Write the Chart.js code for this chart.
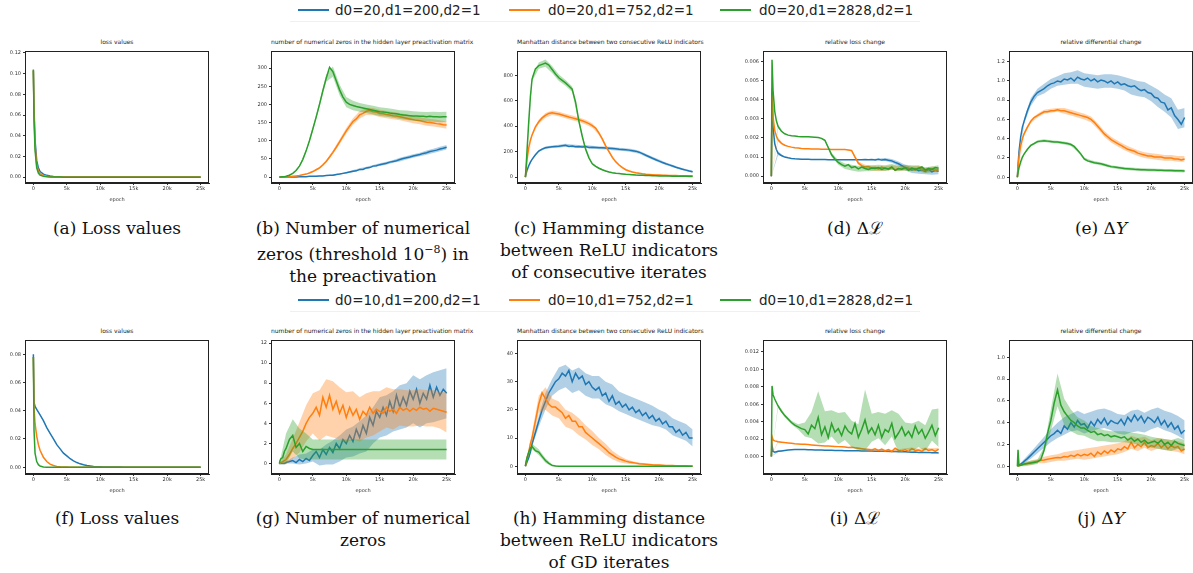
<!DOCTYPE html>
<html>
<head>
<meta charset="utf-8">
<script src="https://cdn.jsdelivr.net/npm/chart.js@4.4.0/dist/chart.umd.min.js"></script>
<style>
  body { margin: 0; width: 1193px; height: 573px; background: #fff; position: relative; overflow: hidden; }
  .ttl { position: absolute; font: 6px "DejaVu Sans"; color: #222; text-align: center; white-space: nowrap; }
  .cap { position: absolute; width: 260px; font: 17px "DejaVu Serif"; line-height: 22px; text-align: center; color: #111; }
  .leg-line { position: absolute; width: 31px; height: 2px; }
  .leg-text { position: absolute; font: 13.5px "DejaVu Sans"; line-height: 16px; color: #222; white-space: nowrap; }
  .leg-box { position: absolute; border-bottom: 1px solid rgba(0,0,0,0.06); }
</style>
</head>
<body>
<script>
// epochs des points tracés (0 à 25k)
const EPOCHS = [0, 100, 250, 500, 750, 1000,
  1500, 2000, 2500, 3000, 3500, 4000, 4500, 5000,
  5500, 6000, 6500, 7000, 7500, 8000, 8500, 9000, 9500, 10000,
  10500, 11000, 11500, 12000, 12500, 13000, 13500, 14000, 14500, 15000,
  15500, 16000, 16500, 17000, 17500, 18000, 18500, 19000, 19500, 20000,
  20500, 21000, 21500, 22000, 22500, 23000, 23500, 24000, 24500, 25000]
// epochs des bandes d'écart-type
const SD_EPOCHS = [0, 1000, 2000, 3000, 4000, 5000, 6000, 7000, 8000, 9000, 10000, 11000, 12000,
  13000, 14000, 15000, 16000, 17000, 18000, 19000, 20000, 21000, 22000, 23000, 24000, 25000]

const TOP_LABELS = ["d0=20,d1=200,d2=1", "d0=20,d1=752,d2=1", "d0=20,d1=2828,d2=1"]
const BOTTOM_LABELS = ["d0=10,d1=200,d2=1", "d0=10,d1=752,d2=1", "d0=10,d1=2828,d2=1"]
const TITLES = ["loss values", "number of numerical zeros in the hidden layer preactivation matrix",
  "Manhattan distance between two consecutive ReLU indicators", "relative loss change", "relative differential change"]

const X_TICKS = [0, 5000, 10000, 15000, 20000, 25000]
const X_TICK_LABELS = ["0", "5k", "10k", "15k", "20k", "25k"]

// (a) loss values, d0=20
const aBlue = [0.103, 0.066, 0.036, 0.016, 0.009, 0.0055,
  0.003, 0.0018, 0.0011, 0.0007, 0.0005, 0.0004, 0.0003, 0.0003,
  0.0002, 0.0002, 0.0002, 0.0002, 0.0002, 0.0002, 0.0002, 0.0002, 0.0002, 0.0002,
  0.0002, 0.0002, 0.0002, 0.0002, 0.0002, 0.0002, 0.0002, 0.0002, 0.0002, 0.0002,
  0.0002, 0.0002, 0.0002, 0.0002, 0.0002, 0.0002, 0.0002, 0.0002, 0.0002, 0.0002,
  0.0002, 0.0002, 0.0002, 0.0002, 0.0002, 0.0002, 0.0002, 0.0002, 0.0002, 0.0002]
const aOrange = [0.103, 0.062, 0.031, 0.012, 0.006, 0.0035,
  0.0016, 0.0009, 0.0005, 0.0003, 0.0002, 0.0002, 0.0001, 0.0001,
  0.0001, 0.0001, 0.0001, 0.0001, 0.0001, 0.0001, 0.0001, 0.0001, 0.0001, 0.0001,
  0.0001, 0.0001, 0.0001, 0.0001, 0.0001, 0.0001, 0.0001, 0.0001, 0.0001, 0.0001,
  0.0001, 0.0001, 0.0001, 0.0001, 0.0001, 0.0001, 0.0001, 0.0001, 0.0001, 0.0001,
  0.0001, 0.0001, 0.0001, 0.0001, 0.0001, 0.0001, 0.0001, 0.0001, 0.0001, 0.0001]
const aGreen = [0.104, 0.056, 0.026, 0.009, 0.004, 0.002,
  0.0008, 0.0004, 0.0002, 0.0001, 0.0001, 0.0001, 0, 0,
  0, 0, 0, 0, 0, 0, 0, 0, 0, 0,
  0, 0, 0, 0, 0, 0, 0, 0, 0, 0,
  0, 0, 0, 0, 0, 0, 0, 0, 0, 0,
  0, 0, 0, 0, 0, 0, 0, 0, 0, 0]

// (b) numerical zeros, d0=20
const bBlue = [0, 0, 0, 0, 0, 0,
  0, 0, 0, 1, 1, 1, 2, 2,
  2, 3, 3, 4, 5, 5, 7, 8, 10, 12,
  14, 16, 17, 21, 21, 25, 26, 30, 31, 34,
  36, 38, 41, 43, 45, 48, 51, 53, 55, 58,
  60, 62, 65, 67, 70, 72, 74, 77, 79, 82]
const bOrange = [0, 0, 0, 0, 1, 1,
  1, 2, 3, 4, 6, 8, 11, 15,
  20, 25, 33, 43, 55, 68, 82, 97, 112, 127,
  140, 153, 160, 171, 175, 181, 183, 180, 179, 175,
  174, 172, 171, 169, 168, 166, 164, 162, 160, 158,
  156, 155, 153, 151, 150, 149, 147, 146, 144, 143]
const bGreen = [0, 0, 0, 1, 1, 2,
  5, 10, 18, 30, 48, 72, 100, 132,
  165, 200, 238, 272, 302, 290, 265, 240, 220, 206,
  200, 197, 194, 192, 190, 188, 186, 184, 182, 180,
  179, 178, 176, 175, 174, 172, 171, 170, 169, 168,
  168, 167, 167, 166, 167, 166, 166, 165, 166, 166]
const bSdBlue = [0, 0, 0, 0, 0, 1, 1, 1, 2, 2, 2, 3, 3, 3, 3, 4, 4, 4, 5, 5, 5, 5, 6, 6, 6, 6]
const bSdOrange = [0, 0, 0, 1, 1, 2, 3, 4, 5, 7, 8, 9, 10, 10, 10, 10, 10, 10, 10, 10, 10, 10, 10, 10, 10, 10]
const bSdGreen = [0, 0, 1, 2, 4, 6, 8, 10, 14, 15, 14, 13, 12, 12, 12, 12, 12, 12, 12, 13, 13, 13, 13, 14, 14, 14]

// (c) Hamming distance, d0=20
const cBlue = [0, 25, 55, 90, 118, 140,
  175, 205, 220, 230, 235, 238, 240, 242,
  246, 250, 241, 244, 238, 241, 236, 240, 233, 235,
  233, 231, 230, 228, 226, 224, 222, 219, 217, 215,
  212, 208, 204, 196, 185, 172, 160, 148, 137, 126,
  115, 105, 96, 87, 78, 70, 62, 55, 48, 42]
const cOrange = [0, 60, 140, 230, 290, 330,
  395, 435, 465, 485, 500, 505, 500, 495,
  488, 480, 472, 465, 458, 450, 442, 432, 420, 405,
  385, 345, 300, 245, 200, 155, 120, 95, 75, 58,
  48, 40, 34, 30, 26, 23, 21, 19, 17, 16,
  15, 14, 13, 12, 12, 11, 11, 10, 10, 10]
const cGreen = [0, 70, 210, 430, 630, 770,
  850, 875, 885, 895, 880, 845, 810, 780,
  760, 740, 715, 690, 590, 440, 320, 220, 150, 105,
  85, 70, 58, 48, 40, 35, 31, 28, 25, 22,
  20, 18, 16, 15, 14, 13, 12, 11, 10, 9,
  9, 8, 8, 7, 7, 6, 6, 6, 5, 5]
const cSdBlue = [0, 5, 8, 10, 10, 12, 12, 12, 12, 12, 12, 12, 12, 12, 12, 12, 12, 12, 12, 12, 12, 10, 10, 8, 8, 8]
const cSdOrange = [0, 10, 15, 18, 18, 18, 18, 18, 18, 18, 18, 15, 12, 10, 8, 6, 5, 5, 4, 4, 4, 3, 3, 3, 3, 3]
const cSdGreen = [0, 20, 25, 28, 28, 25, 22, 22, 20, 15, 8, 6, 5, 4, 3, 3, 3, 3, 3, 3, 2, 2, 2, 2, 2, 2]

// (d) relative loss change, d0=20
const dBlue = [0, 0.0044, 0.0026, 0.0017, 0.0014, 0.0012,
  0.00108, 0.001, 0.00096, 0.00093, 0.00091, 0.0009, 0.00089, 0.00088,
  0.00088, 0.00087, 0.00087, 0.00087, 0.00087, 0.00087, 0.00086, 0.00086, 0.00086, 0.00086,
  0.00086, 0.00086, 0.00086, 0.00086, 0.00086, 0.00086, 0.00086, 0.00087, 0.00086, 0.00087,
  0.00085, 0.00088, 0.00084, 0.00087, 0.00083, 0.0008, 0.00072, 0.00065, 0.00055, 0.00045,
  0.0004, 0.00032, 0.00038, 0.00028, 0.00033, 0.00025, 0.00035, 0.00022, 0.0003, 0.00025]
const dOrange = [0, 0.0046, 0.0031, 0.0024, 0.0021, 0.0019,
  0.00172, 0.00162, 0.00156, 0.00152, 0.00149, 0.00147, 0.00145, 0.00144,
  0.00143, 0.00142, 0.00142, 0.00142, 0.00141, 0.00141, 0.00141, 0.0014, 0.0014, 0.0014,
  0.0014, 0.00139, 0.00137, 0.00134, 0.001, 0.00068, 0.00055, 0.00048, 0.0005, 0.00042,
  0.00045, 0.00038, 0.00048, 0.0004, 0.00035, 0.00045, 0.00032, 0.0004, 0.00036, 0.00042,
  0.00035, 0.0004, 0.00032, 0.00045, 0.00036, 0.0003, 0.0004, 0.00038, 0.0003, 0.00035]
const dGreen = [0, 0.0061, 0.0045, 0.0034, 0.0029, 0.0026,
  0.00235, 0.00222, 0.00215, 0.00212, 0.0021, 0.00208, 0.00207, 0.00207,
  0.00206, 0.00205, 0.00204, 0.00202, 0.00198, 0.00188, 0.0015, 0.00112, 0.0009, 0.00072,
  0.0006, 0.00052, 0.0006, 0.00045, 0.0005, 0.00038, 0.00048, 0.0004, 0.00035, 0.00042,
  0.0004, 0.00045, 0.00035, 0.00042, 0.00038, 0.00048, 0.0003, 0.0004, 0.00036, 0.00045,
  0.0003, 0.00042, 0.00035, 0.0004, 0.00048, 0.00032, 0.0004, 0.00035, 0.00045, 0.00042]
const dSdBlue = [0, 0.0001, 0, 0, 0, 0, 0, 0, 0, 0, 0, 0, 0, 0, 0, 0.00003, 0.00005, 0.00008, 0.0001, 0.00012,
  0.00015, 0.00015, 0.00015, 0.00015, 0.00015, 0.00015]
const dSdOrange = [0, 0.0001, 0, 0, 0, 0, 0, 0, 0, 0, 0, 0, 0.00005, 0.0001, 0.00012, 0.00012, 0.00012, 0.00012,
  0.00012, 0.00012, 0.00012, 0.00012, 0.00012, 0.00012, 0.00012, 0.00012]
const dSdGreen = [0, 0.0001, 0, 0, 0, 0, 0, 0, 0.00005, 0.0001, 0.00012, 0.00014, 0.00015, 0.00015, 0.00015,
  0.00015, 0.00015, 0.00015, 0.00015, 0.00015, 0.00015, 0.00015, 0.00015, 0.00015, 0.00015, 0.00015]

// (e) relative differential change, d0=20
const eBlue = [0, 0.12, 0.27, 0.42, 0.52, 0.58,
  0.69, 0.78, 0.84, 0.88, 0.9, 0.92, 0.95, 0.97,
  0.98, 1.0, 0.99, 1.02, 1.01, 1.03, 1.0, 1.04, 1.02, 1.01,
  1.03, 1.0, 1.02, 0.99, 1.01, 1.0, 0.98, 1.0, 0.97, 0.99,
  0.96, 0.97, 0.95, 0.94, 0.95, 0.92, 0.9, 0.91, 0.88, 0.87,
  0.83, 0.82, 0.78, 0.77, 0.7, 0.72, 0.64, 0.6, 0.55, 0.62]
const eOrange = [0, 0.1, 0.22, 0.33, 0.4, 0.45,
  0.52, 0.58, 0.62, 0.64, 0.66, 0.68, 0.68, 0.69,
  0.69, 0.7, 0.69, 0.69, 0.68, 0.67, 0.66, 0.65, 0.64, 0.63,
  0.62, 0.6, 0.57, 0.53, 0.49, 0.45, 0.42, 0.39, 0.37, 0.35,
  0.33, 0.31, 0.29, 0.28, 0.27, 0.25, 0.24, 0.23, 0.22, 0.22,
  0.21, 0.21, 0.21, 0.2, 0.2, 0.2, 0.19, 0.19, 0.18, 0.19]
const eGreen = [0, 0.05, 0.1, 0.16, 0.21, 0.24,
  0.29, 0.33, 0.35, 0.37, 0.375, 0.38, 0.375, 0.37,
  0.365, 0.365, 0.36, 0.355, 0.35, 0.34, 0.32, 0.28, 0.24, 0.19,
  0.17, 0.16, 0.15, 0.145, 0.14, 0.13, 0.12, 0.11, 0.105, 0.1,
  0.095, 0.09, 0.088, 0.085, 0.082, 0.08, 0.078, 0.077, 0.076, 0.075,
  0.074, 0.073, 0.072, 0.071, 0.07, 0.07, 0.068, 0.067, 0.066, 0.065]
const eSdBlue = [0, 0.03, 0.04, 0.04, 0.05, 0.05, 0.05, 0.06, 0.06, 0.07, 0.07, 0.07, 0.07, 0.07, 0.07, 0.07, 0.07,
  0.08, 0.08, 0.08, 0.08, 0.09, 0.09, 0.1, 0.1, 0.1]
const eSdOrange = [0, 0.02, 0.02, 0.02, 0.02, 0.02, 0.02, 0.03, 0.03, 0.03, 0.03, 0.03, 0.03, 0.03, 0.03, 0.03, 0.03,
  0.03, 0.03, 0.03, 0.03, 0.03, 0.03, 0.03, 0.03, 0.03]
const eSdGreen = [0, 0.01, 0.01, 0.015, 0.015, 0.015, 0.015, 0.015, 0.015, 0.015, 0.015, 0.015, 0.015, 0.015, 0.015,
  0.015, 0.015, 0.015, 0.015, 0.015, 0.015, 0.015, 0.015, 0.015, 0.015, 0.015]

// (f) loss values, d0=10
const fBlue = [0.08, 0.046, 0.043, 0.041, 0.039, 0.037,
  0.033, 0.028, 0.024, 0.02, 0.016, 0.013, 0.01, 0.008,
  0.006, 0.0045, 0.0033, 0.0024, 0.0017, 0.0012, 0.0009, 0.0006, 0.0004, 0.0003,
  0.0002, 0.0002, 0.0001, 0.0001, 0.0001, 0.0001, 0, 0, 0, 0,
  0, 0, 0, 0, 0, 0, 0, 0, 0, 0,
  0, 0, 0, 0, 0, 0, 0, 0, 0, 0]
const fOrange = [0.078, 0.042, 0.031, 0.022, 0.016, 0.012,
  0.007, 0.004, 0.0022, 0.0012, 0.0006, 0.0003, 0.0002, 0.0001,
  0, 0, 0, 0, 0, 0, 0, 0, 0, 0,
  0, 0, 0, 0, 0, 0, 0, 0, 0, 0,
  0, 0, 0, 0, 0, 0, 0, 0, 0, 0,
  0, 0, 0, 0, 0, 0, 0, 0, 0, 0]
const fGreen = [0.078, 0.026, 0.01, 0.004, 0.0018, 0.0008,
  0.0002, 0, 0, 0, 0, 0, 0, 0,
  0, 0, 0, 0, 0, 0, 0, 0, 0, 0,
  0, 0, 0, 0, 0, 0, 0, 0, 0, 0,
  0, 0, 0, 0, 0, 0, 0, 0, 0, 0,
  0, 0, 0, 0, 0, 0, 0, 0, 0, 0]

// (g) numerical zeros, d0=10
const gBlue = [0, 0, 0, 0, 0, 0.1,
  0.2, 0.3, 0.1, 0.4, 0.2, 0.5, 0.3, 0.8,
  1.2, 0.6, 1.4, 0.9, 1.6, 1.1, 2.0, 1.5, 2.4, 2.0,
  2.8, 2.2, 3.4, 2.6, 3.8, 3.0, 4.6, 3.8, 5.2, 4.6,
  5.6, 4.8, 6.2, 5.2, 6.8, 5.6, 6.6, 5.8, 7.2, 6.4,
  7.4, 6.0, 7.0, 6.4, 7.8, 6.6, 7.6, 6.8, 7.4, 7.0]
const gOrange = [0, 0, 0.1, 0.2, 0.3, 0.4,
  0.9, 1.5, 2.0, 2.6, 3.2, 4.0, 4.6, 5.0,
  5.6, 4.8, 6.6, 5.6, 6.8, 5.4, 6.2, 5.0, 5.8, 4.6,
  5.6, 4.8, 5.4, 4.4, 5.2, 4.8, 5.6, 5.0, 5.4, 5.2,
  5.0, 5.6, 5.2, 5.4, 5.0, 5.6, 5.3, 5.5, 5.2, 5.5,
  5.3, 5.6, 5.4, 5.5, 5.2, 5.5, 5.4, 5.3, 5.2, 5.1]
const gGreen = [0, 0.3, 0.5, 0.6, 1.2, 1.5,
  2.4, 2.8, 1.6, 2.0, 1.2, 1.7, 1.5, 1.4,
  1.4, 1.4, 1.4, 1.4, 1.4, 1.4, 1.4, 1.4, 1.4, 1.4,
  1.4, 1.4, 1.4, 1.4, 1.4, 1.4, 1.4, 1.4, 1.4, 1.4,
  1.4, 1.4, 1.4, 1.4, 1.4, 1.4, 1.4, 1.4, 1.4, 1.4,
  1.4, 1.4, 1.4, 1.4, 1.4, 1.4, 1.4, 1.4, 1.4, 1.4]
const gSdBlue = [0, 0.1, 0.3, 0.5, 0.5, 0.6, 0.8, 1.0, 1.2, 1.3, 1.4, 1.5, 1.6, 1.8, 1.8, 2.0, 2.0, 2.0, 2.2, 2.2,
  2.4, 2.4, 2.4, 2.5, 2.5, 2.5]
const gSdOrange = [0, 0.5, 1.0, 1.5, 1.8, 2.0, 2.5, 2.8, 2.8, 2.6, 2.5, 2.4, 2.2, 2.2, 2.2, 2.0, 2.0, 2.0, 1.8, 1.8,
  1.8, 1.8, 1.8, 1.8, 1.8, 2.0]
const gSdGreen = [0, 1.5, 1.6, 1.5, 1.3, 1.0, 1.0, 1.0, 1.0, 1.0, 1.0, 1.0, 1.0, 1.0, 1.0, 1.0, 1.0, 1.0, 1.0, 1.0,
  1.0, 1.0, 1.0, 1.0, 1.0, 1.0]

// (h) Hamming distance, d0=10
const hBlue = [0, 0.5, 1.5, 3, 5, 8,
  12, 16, 20, 23, 26, 28, 30, 31,
  33, 32, 34, 30, 33, 31, 32, 29, 30, 28,
  27, 28, 25, 26, 23, 25, 22, 23, 21, 22,
  20, 21, 19, 20, 18, 19, 17, 18, 16, 17,
  15, 16, 14, 14, 12, 13, 11, 12, 10, 10]
const hOrange = [0, 1, 3, 5, 8, 10,
  16, 22, 26, 24, 22, 21, 21, 20,
  19, 17, 18, 16, 16, 14, 14, 12, 11, 10,
  9, 8, 7, 6, 4.8, 4, 3.2, 2.6, 2.2, 1.8,
  1.5, 1.3, 1.1, 0.9, 0.8, 0.7, 0.6, 0.5, 0.45, 0.4,
  0.35, 0.3, 0.3, 0.25, 0.2, 0.2, 0.15, 0.15, 0.1, 0.1]
const hGreen = [0, 1.5, 3, 5, 6.5, 7,
  5.5, 5, 3.5, 2, 1, 0.3, 0.1, 0,
  0, 0, 0, 0, 0, 0, 0, 0, 0, 0,
  0, 0, 0, 0, 0, 0, 0, 0, 0, 0,
  0, 0, 0, 0, 0, 0, 0, 0, 0, 0,
  0, 0, 0, 0, 0, 0, 0, 0, 0, 0]
const hSdBlue = [0, 1, 2, 3, 3, 4, 4, 4, 4, 4, 4, 4, 4, 4, 3.5, 3.5, 3.5, 3.5, 3.5, 3.5, 3, 3, 3, 3, 3, 3]
const hSdOrange = [0, 2, 3, 4, 3, 3, 3, 3, 3, 2.5, 2.5, 2, 2, 1.5, 1.2, 0.8, 0.5, 0.4, 0.3, 0.2, 0.2, 0.1, 0.1, 0.1, 0.1, 0.1]
const hSdGreen = [0, 1, 1, 0.8, 0.4, 0.1, 0, 0, 0, 0, 0, 0, 0, 0, 0, 0, 0, 0, 0, 0, 0, 0, 0, 0, 0, 0]

// (i) relative loss change, d0=10
const iBlue = [0, 0.0013, 0.0006, 0.0005, 0.00055, 0.0006,
  0.00065, 0.0007, 0.00075, 0.00078, 0.0008, 0.0008, 0.0008, 0.0008,
  0.00078, 0.00077, 0.00076, 0.00075, 0.00074, 0.00073, 0.00072, 0.00071, 0.0007, 0.0007,
  0.00069, 0.00068, 0.00068, 0.00067, 0.00066, 0.00066, 0.00065, 0.00064, 0.00064, 0.00063,
  0.00062, 0.00062, 0.00061, 0.0006, 0.0006, 0.00058, 0.00057, 0.00056, 0.00055, 0.00054,
  0.00053, 0.0005, 0.00052, 0.00048, 0.0005, 0.00046, 0.00048, 0.00044, 0.00046, 0.00042]
const iOrange = [0, 0.0023, 0.0019, 0.0018, 0.00175, 0.0017,
  0.00165, 0.0016, 0.00156, 0.00152, 0.00148, 0.00145, 0.00142, 0.0014,
  0.00137, 0.00134, 0.00131, 0.00128, 0.00125, 0.00122, 0.0012, 0.00118, 0.00116, 0.00114,
  0.00112, 0.0011, 0.00105, 0.00108, 0.001, 0.00095, 0.0009, 0.00085, 0.0008, 0.00075,
  0.0009, 0.0007, 0.00085, 0.00065, 0.0008, 0.0006, 0.00095, 0.0007, 0.00065, 0.0008,
  0.0006, 0.0009, 0.0007, 0.00075, 0.0006, 0.0009, 0.0007, 0.0008, 0.0006, 0.00085]
const iGreen = [0, 0.0081, 0.0071, 0.0066, 0.0062, 0.0058,
  0.0052, 0.0047, 0.0043, 0.0039, 0.0036, 0.0034, 0.0032, 0.0031,
  0.0026, 0.0036, 0.0032, 0.0045, 0.0025, 0.0034, 0.0022, 0.0038, 0.0028, 0.0032,
  0.0024, 0.0035, 0.0029, 0.0026, 0.0038, 0.0022, 0.0031, 0.0042, 0.0027, 0.0033,
  0.0025, 0.0036, 0.0022, 0.0031, 0.0028, 0.0038, 0.0021, 0.0027, 0.0034, 0.0024,
  0.0029, 0.0022, 0.0035, 0.0026, 0.0031, 0.0021, 0.0028, 0.0036, 0.0024, 0.0033]
const iSdBlue = [0, 0.0001, 0, 0, 0, 0, 0, 0, 0, 0, 0, 0, 0, 0, 0, 0, 0.00003, 0.00003, 0.00003, 0.00003,
  0.00005, 0.00005, 0.00005, 0.00005, 0.00005, 0.00005]
const iSdOrange = [0, 0.0001, 0, 0, 0, 0, 0, 0, 0, 0, 0, 0, 0, 0.00008, 0.0001, 0.00015, 0.00015, 0.00015, 0.00015,
  0.00015, 0.00015, 0.00015, 0.00015, 0.00015, 0.00015, 0.00015]
const iSdGreen = [0, 0.0002, 0.0002, 0.0002, 0.0003, 0.0008, 0.0015, 0.003, 0.0018, 0.0015, 0.0018, 0.0016, 0.0015,
  0.0015, 0.0035, 0.0016, 0.0015, 0.0018, 0.0015, 0.0022, 0.0015, 0.0016, 0.0015, 0.0015, 0.0018, 0.0022]

// (j) relative differential change, d0=10
const jBlue = [0, 0.005, 0.01, 0.02, 0.03, 0.045,
  0.07, 0.1, 0.13, 0.16, 0.19, 0.22, 0.25, 0.28,
  0.3, 0.33, 0.3, 0.37, 0.34, 0.4, 0.36, 0.42, 0.38, 0.39,
  0.35, 0.41, 0.37, 0.43, 0.39, 0.44, 0.38, 0.42, 0.4, 0.39,
  0.43, 0.38, 0.45, 0.41, 0.47, 0.42, 0.46, 0.4, 0.45, 0.43,
  0.4, 0.45, 0.38, 0.42, 0.36, 0.4, 0.34, 0.37, 0.3, 0.33]
const jOrange = [0, 0.003, 0.006, 0.01, 0.014, 0.018,
  0.025, 0.032, 0.04, 0.047, 0.053, 0.058, 0.065, 0.07,
  0.075, 0.08, 0.078, 0.09, 0.085, 0.1, 0.09, 0.11, 0.095, 0.11,
  0.1, 0.12, 0.09, 0.13, 0.11, 0.14, 0.12, 0.15, 0.13, 0.16,
  0.15, 0.18, 0.16, 0.22, 0.17, 0.2, 0.18, 0.22, 0.17, 0.19,
  0.18, 0.21, 0.17, 0.2, 0.16, 0.19, 0.17, 0.18, 0.14, 0.16]
const jGreen = [0, 0.15, 0.005, 0.01, 0.015, 0.02,
  0.025, 0.03, 0.035, 0.04, 0.06, 0.15, 0.3, 0.42,
  0.58, 0.7, 0.56, 0.5, 0.46, 0.42, 0.4, 0.37, 0.35, 0.35,
  0.33, 0.31, 0.32, 0.29, 0.3, 0.28, 0.29, 0.27, 0.28, 0.27,
  0.26, 0.27, 0.24, 0.26, 0.23, 0.25, 0.22, 0.24, 0.21, 0.22,
  0.23, 0.21, 0.24, 0.2, 0.22, 0.19, 0.23, 0.21, 0.2, 0.19]
const jSdBlue = [0, 0.02, 0.03, 0.04, 0.05, 0.06, 0.07, 0.08, 0.08, 0.09, 0.09, 0.09, 0.09, 0.09, 0.09, 0.09, 0.09,
  0.1, 0.1, 0.09, 0.09, 0.09, 0.09, 0.09, 0.09, 0.09]
const jSdOrange = [0, 0.01, 0.02, 0.02, 0.03, 0.03, 0.03, 0.04, 0.04, 0.04, 0.05, 0.05, 0.05, 0.05, 0.05, 0.05, 0.05,
  0.06, 0.06, 0.05, 0.05, 0.05, 0.05, 0.05, 0.05, 0.05]
const jSdGreen = [0, 0.02, 0.02, 0.02, 0.03, 0.1, 0.15, 0.12, 0.1, 0.08, 0.07, 0.06, 0.06, 0.05, 0.05, 0.05, 0.05,
  0.05, 0.05, 0.05, 0.05, 0.05, 0.05, 0.05, 0.05, 0.05]

// graduations de l'axe y
const Y_TICKS = {
  a: [0, 0.02, 0.04, 0.06, 0.08, 0.10, 0.12],
  b: [0, 50, 100, 150, 200, 250, 300],
  c: [0, 200, 400, 600, 800],
  d: [0, 0.001, 0.002, 0.003, 0.004, 0.005, 0.006],
  e: [0, 0.2, 0.4, 0.6, 0.8, 1.0, 1.2],
  f: [0, 0.02, 0.04, 0.06, 0.08],
  g: [0, 2, 4, 6, 8, 10, 12],
  h: [0, 10, 20, 30, 40],
  i: [0, 0.002, 0.004, 0.006, 0.008, 0.010, 0.012],
  j: [0, 0.2, 0.4, 0.6, 0.8, 1.0],
}
const Y_LABELS = {
  a: ["0.00", "0.02", "0.04", "0.06", "0.08", "0.10", "0.12"],
  b: ["0", "50", "100", "150", "200", "250", "300"],
  c: ["0", "200", "400", "600", "800"],
  d: ["0.000", "0.001", "0.002", "0.003", "0.004", "0.005", "0.006"],
  e: ["0.0", "0.2", "0.4", "0.6", "0.8", "1.0", "1.2"],
  f: ["0.00", "0.02", "0.04", "0.06", "0.08"],
  g: ["0", "2", "4", "6", "8", "10", "12"],
  h: ["0", "10", "20", "30", "40"],
  i: ["0.000", "0.002", "0.004", "0.006", "0.008", "0.010", "0.012"],
  j: ["0.0", "0.2", "0.4", "0.6", "0.8", "1.0"],
}

const CAPTIONS = {
  a: ["(a) Loss values"],
  b: ["(b) Number of numerical", "zeros (threshold 10<sup style='font-size:11px'>−8</sup>) in", "the preactivation"],
  c: ["(c) Hamming distance", "between ReLU indicators", "of consecutive iterates"],
  d: ["(d) Δℒ"],
  e: ["(e) Δ<i>Y</i>"],
  f: ["(f) Loss values"],
  g: ["(g) Number of numerical", "zeros"],
  h: ["(h) Hamming distance", "between ReLU indicators", "of GD iterates"],
  i: ["(i) Δℒ"],
  j: ["(j) Δ<i>Y</i>"],
}

// mise en page
const COLORS = ["#1f77b4", "#ff7f0e", "#2ca02c"]
const BAND_COLORS = ["rgba(31,119,180,0.35)", "rgba(255,127,14,0.35)", "rgba(44,160,44,0.35)"]
const COL_LEFT = [25, 271, 517, 763, 1009]
const ROW_TOP = [47, 336]
const ROW_H = [136, 138]
const CAP_TOP = [217, 507]
const LEGEND_Y = [10, 300]
const LEG_LINE_X = [298, 509, 720]
const LEG_TEXT_X = [335, 548, 759]
const BOX_W = 184
const YW = 24
const XH = 20

const PANELS = [
  { id: "a", col: 0, row: 0, series: [aBlue, aOrange, aGreen], sds: [], yMin: -0.0056, yMax: 0.1219 },
  { id: "b", col: 1, row: 0, series: [bBlue, bOrange, bGreen], sds: [bSdBlue, bSdOrange, bSdGreen], yMin: -16.5, yMax: 347 },
  { id: "c", col: 2, row: 0, series: [cBlue, cOrange, cGreen], sds: [cSdBlue, cSdOrange, cSdGreen], yMin: -46, yMax: 990 },
  { id: "d", col: 3, row: 0, series: [dBlue, dOrange, dGreen], sds: [dSdBlue, dSdOrange, dSdGreen], yMin: -0.00036, yMax: 0.00656 },
  { id: "e", col: 4, row: 0, series: [eBlue, eOrange, eGreen], sds: [eSdBlue, eSdOrange, eSdGreen], yMin: -0.06, yMax: 1.311 },
  { id: "f", col: 0, row: 1, series: [fBlue, fOrange, fGreen], sds: [], yMin: -0.0048, yMax: 0.0901 },
  { id: "g", col: 1, row: 1, series: [gBlue, gOrange, gGreen], sds: [gSdBlue, gSdOrange, gSdGreen], yMin: -1.04, yMax: 12.3 },
  { id: "h", col: 2, row: 1, series: [hBlue, hOrange, hGreen], sds: [hSdBlue, hSdOrange, hSdGreen], yMin: -2.76, yMax: 44.8 },
  { id: "i", col: 3, row: 1, series: [iBlue, iOrange, iGreen], sds: [iSdBlue, iSdOrange, iSdGreen], yMin: -0.002, yMax: 0.01337 },
  { id: "j", col: 4, row: 1, series: [jBlue, jOrange, jGreen], sds: [jSdBlue, jSdOrange, jSdGreen], yMin: -0.071, yMax: 1.158 },
]

function toPoints(ys) {
  return EPOCHS.map((e, i) => ({ x: e, y: ys[i] }))
}

function bandPoints(mean, sd, sign) {
  return SD_EPOCHS.map((e, k) => ({ x: e, y: mean[EPOCHS.indexOf(e)] + sign * sd[k] }))
}

// cadre complet autour de la zone du graphique (comme matplotlib)
const framePlugin = {
  id: "frame",
  afterDraw(chart) {
    const { ctx, chartArea: a } = chart
    ctx.save()
    ctx.strokeStyle = "#222"
    ctx.lineWidth = 1
    ctx.strokeRect(Math.round(a.left) + 0.5, Math.round(a.top) + 0.5, Math.round(a.right - a.left) - 1, Math.round(a.bottom - a.top) - 1)
    ctx.restore()
  },
}

function addDiv(cls, css, html) {
  const d = document.createElement("div")
  d.className = cls
  d.style.cssText = css
  d.innerHTML = html
  document.body.appendChild(d)
  return d
}

function addLegend(row, labels) {
  const y = LEGEND_Y[row]
  addDiv("leg-box", `left:290px;top:${y - 13}px;width:630px;height:24px;`, "")
  labels.forEach((t, i) => {
    addDiv("leg-line", `left:${LEG_LINE_X[i]}px;top:${y - 1}px;background:${COLORS[i]};`, "")
    addDiv("leg-text", `left:${LEG_TEXT_X[i]}px;top:${y - 8}px;`, t)
  })
}

function createPanel(p) {
  const left = COL_LEFT[p.col]
  const top = ROW_TOP[p.row]
  const h = ROW_H[p.row]
  const w = YW + BOX_W + 2
  const ch = h + XH + 1

  const canvas = document.createElement("canvas")
  canvas.width = w
  canvas.height = ch
  canvas.style.cssText = `position:absolute;left:${left - YW}px;top:${top - 1}px;width:${w}px;height:${ch}px;`
  document.body.appendChild(canvas)

  addDiv("ttl", `left:${left}px;width:${BOX_W}px;top:${top - 9}px;`, TITLES[p.col])
  addDiv("cap", `left:${left + BOX_W / 2 - 130}px;top:${CAP_TOP[p.row]}px;`, CAPTIONS[p.id].join("<br>"))

  const datasets = []
  p.series.forEach((s, i) => {
    const order = 6 - 2 * i
    datasets.push({
      data: toPoints(s), borderColor: COLORS[i], borderWidth: 1.5,
      pointRadius: 0, fill: false, order: order,
    })
    if (p.sds[i]) {
      datasets.push({
        data: bandPoints(s, p.sds[i], 1), borderColor: "rgba(0,0,0,0)", borderWidth: 0,
        pointRadius: 0, backgroundColor: BAND_COLORS[i], fill: "+1", order: order - 1,
      })
      datasets.push({
        data: bandPoints(s, p.sds[i], -1), borderColor: "rgba(0,0,0,0)", borderWidth: 0,
        pointRadius: 0, fill: false, order: order - 1,
      })
    }
  })

  const tickFont = { size: 5, family: "DejaVu Sans" }
  new Chart(canvas.getContext("2d"), {
    type: "line",
    data: { datasets: datasets },
    plugins: [framePlugin],
    options: {
      responsive: false,
      animation: false,
      devicePixelRatio: 1,
      layout: { padding: { top: 1, right: 2, left: 0, bottom: 0 } },
      plugins: { legend: { display: false }, tooltip: { enabled: false } },
      elements: { line: { tension: 0 } },
      scales: {
        x: {
          type: "linear", min: -1250, max: 26250,
          afterFit: (s) => { s.height = XH },
          afterBuildTicks: (s) => { s.ticks = X_TICKS.map((v) => ({ value: v })) },
          ticks: { callback: (v, i) => X_TICK_LABELS[i], font: tickFont, color: "#333", padding: 1, maxRotation: 0, autoSkip: false },
          grid: { display: true, drawOnChartArea: false, drawTicks: true, tickLength: 2, color: "#333" },
          border: { display: true, color: "#222" },
          title: { display: true, text: "epoch", font: tickFont, color: "#333", padding: { top: 1, bottom: 0 } },
        },
        y: {
          type: "linear", min: p.yMin, max: p.yMax,
          afterFit: (s) => { s.width = YW },
          afterBuildTicks: (s) => { s.ticks = Y_TICKS[p.id].map((v) => ({ value: v })) },
          ticks: { callback: (v, i) => Y_LABELS[p.id][i], font: tickFont, color: "#333", padding: 2, autoSkip: false },
          grid: { display: true, drawOnChartArea: false, drawTicks: true, tickLength: 2, color: "#333" },
          border: { display: true, color: "#222" },
        },
      },
    },
  })
}

addLegend(0, TOP_LABELS)
addLegend(1, BOTTOM_LABELS)
PANELS.forEach(createPanel)
</script>
</body>
</html>
